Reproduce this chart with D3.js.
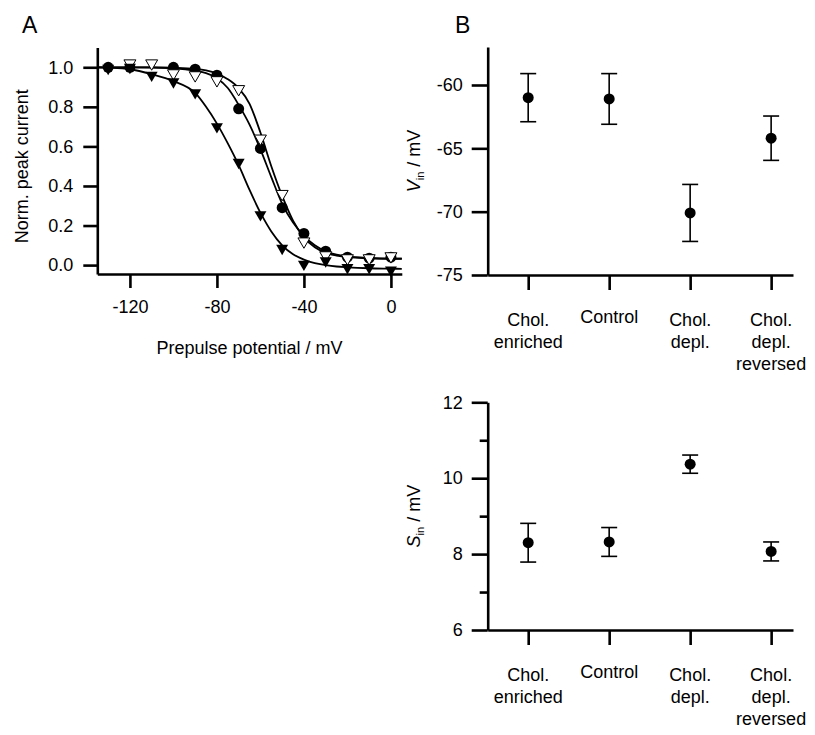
<!DOCTYPE html>
<html>
<head>
<meta charset="utf-8">
<script src="https://cdn.jsdelivr.net/npm/d3@7"></script>
<style>
  body { margin: 0; background: #fff; }
  svg text { font-family: "Liberation Sans", Arial, sans-serif; fill: #000; }
</style>
</head>
<body>
<svg id="fig" width="815" height="735"></svg>
<script>
// ---- panel A: inactivation data (normalised peak current vs prepulse potential)
// null = point not visible in the figure
const prepulse = [-130, -120, -110, -100, -90, -80, -70, -60, -50, -40, -30, -20, -10, 0];
const circleData = [1.0, 1.0, null, 1.0, 0.99, 0.96, 0.79, 0.59, 0.29, 0.16, 0.07, 0.04, 0.035, 0.04];
const openTriData = [null, 1.02, 1.02, 0.97, 0.96, 0.935, 0.89, 0.64, 0.36, 0.12, 0.05, 0.035, 0.035, 0.045];
const filledTriData = [0.995, 1.0, 0.96, 0.927, 0.872, 0.70, 0.52, 0.255, 0.085, 0.005, 0.022, -0.012, -0.012, -0.025];

// fitted curves
const fitV = [-135, -130, -120, -110, -100, -90, -85, -80, -75, -70, -65, -60, -55, -50, -45, -40, -35, -30, -25, -20, -10, 0, 5];
const fitCircle = [1.0, 1.0, 1.0, 0.999, 0.995, 0.982, 0.97, 0.945, 0.895, 0.81, 0.71, 0.585, 0.445, 0.31, 0.215, 0.148, 0.1, 0.07, 0.053, 0.044, 0.036, 0.033, 0.033];
const fitOpen = [1.0, 1.0, 1.0, 1.0, 0.998, 0.992, 0.984, 0.968, 0.94, 0.895, 0.815, 0.67, 0.5, 0.35, 0.225, 0.14, 0.09, 0.062, 0.048, 0.04, 0.034, 0.032, 0.032];
const fitFilled = [1.0, 0.998, 0.99, 0.965, 0.93, 0.87, 0.80, 0.715, 0.615, 0.505, 0.38, 0.265, 0.17, 0.1, 0.055, 0.028, 0.01, 0.0, -0.007, -0.011, -0.016, -0.018, -0.019];

const xTicksA = [-120, -80, -40, 0];
const yTicksA = [0, 0.2, 0.4, 0.6, 0.8, 1.0];

// ---- panel B: fit parameters per condition
const categories = [["Chol.", "enriched"], ["Control"], ["Chol.", "depl."], ["Chol.", "depl.", "reversed"]];
const vinMean = [-61.0, -61.1, -70.1, -64.2];
const vinErr = [1.9, 2.0, 2.25, 1.75];
const sinMean = [8.3, 8.32, 10.37, 8.07];
const sinErr = [0.51, 0.38, 0.24, 0.25];
const vinTicks = [-75, -70, -65, -60];
const sinTicks = [6, 8, 10, 12];
const sinMinor = [7, 9, 11];

const FONT = '"Liberation Sans", Arial, sans-serif';
const svg = d3.select("#fig");

function styleAxis(g) {
  g.attr("font-family", FONT).attr("font-size", 18);
  g.select(".domain").attr("stroke-width", 2.6);
  g.selectAll(".tick line").attr("stroke-width", 2.6);
  return g;
}

// ---------------- panel A ----------------
const xA = d3.scaleLinear().domain([-135, 5]).range([97.3, 401.8]);
const yA = d3.scaleLinear().domain([-0.045, 1.1]).range([274, 47.5]);

svg.append("text").attr("x", 22).attr("y", 33).attr("font-size", 23).text("A");

styleAxis(svg.append("g")
  .attr("transform", `translate(0,${yA.range()[0]})`)
  .call(d3.axisBottom(xA).tickValues(xTicksA).tickSize(14).tickSizeOuter(0)
    .tickPadding(12).tickFormat(d => String(d))));

styleAxis(svg.append("g")
  .attr("transform", `translate(${xA.range()[0]},0)`)
  .call(d3.axisLeft(yA).tickValues(yTicksA).tickSize(14).tickSizeOuter(0)
    .tickPadding(10).tickFormat(d3.format(".1f"))));

svg.append("text")
  .attr("transform", `translate(28,${(yA(0) + yA(1)) / 2}) rotate(-90)`)
  .attr("text-anchor", "middle").attr("font-size", 18)
  .text("Norm. peak current");

svg.append("text")
  .attr("x", (xA.range()[0] + xA.range()[1]) / 2).attr("y", 354)
  .attr("text-anchor", "middle").attr("font-size", 18)
  .text("Prepulse potential / mV");

const fitLine = d3.line().x(d => xA(d[0])).y(d => yA(d[1])).curve(d3.curveMonotoneX);
[fitCircle, fitOpen, fitFilled].forEach(fit => {
  svg.append("path")
    .datum(fitV.map((v, i) => [v, fit[i]]))
    .attr("d", fitLine)
    .attr("fill", "none").attr("stroke", "#000").attr("stroke-width", 1.8);
});

const tri = d3.symbol().type(d3.symbolTriangle).size(62);
const pairs = vals => prepulse.map((v, i) => [v, vals[i]]).filter(d => d[1] != null);

svg.append("g").selectAll("circle")
  .data(pairs(circleData))
  .join("circle")
  .attr("cx", d => xA(d[0])).attr("cy", d => yA(d[1])).attr("r", 5.5)
  .attr("fill", "#000");

svg.append("g").selectAll("path")
  .data(pairs(openTriData))
  .join("path")
  .attr("d", tri)
  .attr("transform", d => `translate(${xA(d[0])},${yA(d[1])}) rotate(180)`)
  .attr("fill", "#fff").attr("stroke", "#000").attr("stroke-width", 1);

svg.append("g").selectAll("path")
  .data(pairs(filledTriData))
  .join("path")
  .attr("d", tri)
  .attr("transform", d => `translate(${xA(d[0])},${yA(d[1])}) rotate(180)`)
  .attr("fill", "#000");

// ---------------- panel B ----------------
const xB = d3.scaleLinear().domain([-0.5, 3.27]).range([487.7, 793]);
const yV = d3.scaleLinear().domain([-75, -57]).range([275, 47]);
const yS = d3.scaleLinear().domain([6, 12]).range([630, 402.3]);

svg.append("text").attr("x", 455).attr("y", 33).attr("font-size", 23).text("B");

function drawPanelB(y, ticks, minor, means, errs, titleLetter) {
  const bottom = y.range()[0];

  styleAxis(svg.append("g")
    .attr("transform", `translate(0,${bottom})`)
    .call(d3.axisBottom(xB).tickValues([0, 1, 2, 3]).tickSize(15).tickSizeOuter(0)
      .tickFormat(() => "")));

  styleAxis(svg.append("g")
    .attr("transform", `translate(${xB.range()[0]},0)`)
    .call(d3.axisLeft(y).tickValues(ticks).tickSize(16).tickSizeOuter(0)
      .tickPadding(9).tickFormat(d => String(d))));

  if (minor) {
    const gm = svg.append("g")
      .attr("transform", `translate(${xB.range()[0]},0)`)
      .call(d3.axisLeft(y).tickValues(minor).tickSize(8).tickFormat(() => ""));
    gm.select(".domain").remove();
    gm.selectAll(".tick line").attr("stroke-width", 2.6);
  }

  // category labels
  categories.forEach((lines, i) => {
    const t = svg.append("text")
      .attr("x", xB(i)).attr("y", bottom + 51 - (lines.length === 1 ? 3 : 0))
      .attr("text-anchor", "middle").attr("font-size", 18);
    lines.forEach((s, j) => {
      t.append("tspan").attr("x", xB(i)).attr("dy", j === 0 ? 0 : 22).text(s);
    });
  });

  // axis title with italic letter and subscript
  const mid = (y.range()[0] + y.range()[1]) / 2;
  const title = svg.append("text")
    .attr("transform", `translate(420,${mid}) rotate(-90)`)
    .attr("text-anchor", "middle").attr("font-size", 18);
  title.append("tspan").attr("font-style", "italic").text(titleLetter);
  title.append("tspan").attr("font-size", 11).attr("dy", 4).text("in");
  title.append("tspan").attr("dy", -4).text(" / mV");

  // error bars and means
  const g = svg.append("g").attr("stroke", "#000").attr("stroke-width", 1.6);
  means.forEach((m, i) => {
    const cx = xB(i);
    g.append("line").attr("x1", cx).attr("x2", cx)
      .attr("y1", y(m - errs[i])).attr("y2", y(m + errs[i]));
    [m - errs[i], m + errs[i]].forEach(v => {
      g.append("line").attr("x1", cx - 8).attr("x2", cx + 8)
        .attr("y1", y(v)).attr("y2", y(v));
    });
  });
  svg.append("g").selectAll("circle")
    .data(means)
    .join("circle")
    .attr("cx", (d, i) => xB(i)).attr("cy", d => y(d)).attr("r", 5.5)
    .attr("fill", "#000");
}

drawPanelB(yV, vinTicks, null, vinMean, vinErr, "V");
drawPanelB(yS, sinTicks, sinMinor, sinMean, sinErr, "S");
</script>
</body>
</html>
